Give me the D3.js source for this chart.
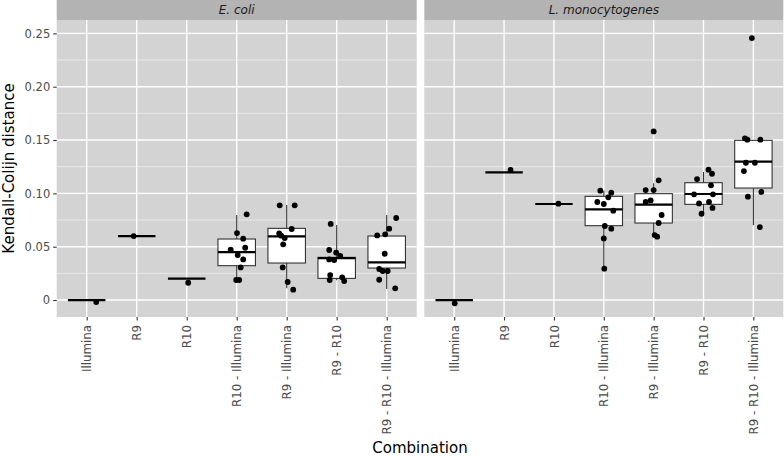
<!DOCTYPE html>
<html><head><meta charset="utf-8">
<script src="https://cdn.jsdelivr.net/npm/d3@7"></script>
<style>body{margin:0;background:#fff}svg{display:block;font-family:"DejaVu Sans",sans-serif}</style>
</head><body><svg id="c" width="784" height="457"></svg>
<script>
const categories = ["Illumina","R9","R10","R10 - Illumina","R9 - Illumina","R9 - R10","R9 - R10 - Illumina"];
const panels = ["E. coli","L. monocytogenes"];
const yTicks = [0,0.05,0.10,0.15,0.20,0.25];
const yTickLabels = ["0","0.05","0.10","0.15","0.20","0.25"];

// box statistics per panel: [lo, q1, median, q3, hi] per category
const boxEcoli = [
  [0,0,0,0,0],[0.06,0.06,0.06,0.06,0.06],[0.02,0.02,0.02,0.02,0.02],
  [0.0194,0.0322,0.045,0.0572,0.0797],[0.011,0.0347,0.0597,0.0672,0.089],
  [0.0185,0.0203,0.0393,0.0400,0.0703],[0.0103,0.030,0.0353,0.060,0.0797]];
const boxListeria = [
  [0,0,0,0,0],[0.1197,0.1197,0.1197,0.1197,0.1197],[0.09,0.09,0.09,0.09,0.09],
  [0.0294,0.0697,0.085,0.0972,0.1025],[0.0619,0.0722,0.0894,0.0997,0.1094],
  [0.0813,0.0897,0.0994,0.11,0.12],[0.07,0.105,0.1297,0.1497,0.1497]];

// jittered points: values and horizontal jitter (category units)
const ptsEcoli = [
  [[-0.0019,0.19]],
  [[0.060,-0.06]],
  [[0.0162,0.03]],
  [[0.0803,0.2],[0.0628,0.006],[0.0575,0.13],[0.0472,-0.12],[0.049,0.17],[0.0422,0.02],[0.0381,0.13],[0.0306,0.08],[0.0188,-0.01],[0.0188,0.05]],
  [[0.0888,-0.14],[0.0888,0.16],[0.0666,0.1],[0.0625,-0.15],[0.0603,-0.11],[0.0581,-0.04],[0.0522,-0.07],[0.0306,-0.08],[0.0169,0.02],[0.0097,0.13]],
  [[0.0713,-0.12],[0.0469,-0.15],[0.0444,-0.01],[0.0413,0.07],[0.0381,-0.15],[0.0375,-0.05],[0.0234,-0.13],[0.0188,-0.14],[0.0213,0.11],[0.0178,0.15]],
  [[0.0769,0.19],[0.0669,0.05],[0.0606,-0.19],[0.0616,-0.03],[0.0434,-0.04],[0.0291,-0.15],[0.0272,-0.08],[0.0272,0.02],[0.019,-0.15],[0.011,0.17]]];
const ptsListeria = [
  [[-0.0031,0.01]],
  [[0.1219,0.13]],
  [[0.0903,0.09]],
  [[0.1025,-0.07],[0.1006,0.15],[0.0963,0.09],[0.0919,-0.13],[0.09,0],[0.0838,0.19],[0.0694,0.02],[0.0669,0.15],[0.0578,0],[0.0294,0.01]],
  [[0.1581,0],[0.1122,0.1],[0.1031,-0.16],[0.1031,0],[0.0919,-0.16],[0.0934,-0.06],[0.0797,0.16],[0.0722,0.1],[0.0609,0.02],[0.0594,0.07]],
  [[0.1222,0.1],[0.1184,0.17],[0.1134,-0.13],[0.1075,0.15],[0.0991,-0.19],[0.0991,0.19],[0.0906,-0.09],[0.0919,0.11],[0.0863,0.18],[0.0809,-0.04]],
  [[0.2456,-0.03],[0.1516,-0.17],[0.1503,-0.12],[0.1503,0.14],[0.1287,-0.15],[0.1287,0.03],[0.1209,-0.19],[0.0969,-0.11],[0.1013,0.16],[0.0684,0.13]]];

const boxes = [boxEcoli, boxListeria];
const points = [ptsEcoli, ptsListeria];

const svg = d3.select("#c");
const pTop = 20, pBottom = 317, stripH = 20;
const panelX = [[56.7,416.7],[424.3,783.3]];
const y = d3.scaleLinear().domain([-0.0159,0.2625]).range([pBottom, pTop]);
const minor = [0.025,0.075,0.125,0.175,0.225];

panels.forEach((name, pi) => {
  const [x0,x1] = panelX[pi];
  const x = d3.scalePoint().domain(categories).range([x0,x1]).padding(0.6);
  const bw = x.step()*0.75;
  const g = svg.append("g");
  g.append("rect").attr("x",x0).attr("y",0).attr("width",x1-x0).attr("height",stripH).attr("fill","#b3b3b3");
  g.append("text").attr("x",(x0+x1)/2).attr("y",stripH/2).attr("dy","0.36em").attr("text-anchor","middle")
    .attr("font-size",12).attr("font-style","italic").attr("fill","#1a1a1a").text(name);
  g.append("rect").attr("x",x0).attr("y",pTop).attr("width",x1-x0).attr("height",pBottom-pTop).attr("fill","#d3d3d3");
  g.selectAll(".mn").data(minor).join("line").attr("x1",x0).attr("x2",x1)
    .attr("y1",d=>y(d)).attr("y2",d=>y(d)).attr("stroke","#ebebeb").attr("stroke-width",0.9);
  g.selectAll(".mj").data(yTicks).join("line").attr("x1",x0).attr("x2",x1)
    .attr("y1",d=>y(d)).attr("y2",d=>y(d)).attr("stroke","#fff").attr("stroke-width",1.4);
  g.selectAll(".mx").data(categories).join("line").attr("y1",pTop).attr("y2",pBottom)
    .attr("x1",d=>x(d)).attr("x2",d=>x(d)).attr("stroke","#fff").attr("stroke-width",1.4);
  const bd = boxes[pi];
  categories.forEach((c,i)=>{
    const [lo,q1,md,q3,hi] = bd[i];
    const cx = x(c);
    if (hi>q3) g.append("line").attr("x1",cx).attr("x2",cx).attr("y1",y(q3)).attr("y2",y(hi)).attr("stroke","#333").attr("stroke-width",1.1);
    if (lo<q1) g.append("line").attr("x1",cx).attr("x2",cx).attr("y1",y(q1)).attr("y2",y(lo)).attr("stroke","#333").attr("stroke-width",1.1);
    g.append("rect").attr("x",cx-bw/2).attr("width",bw).attr("y",y(q3)).attr("height",Math.max(0,y(q1)-y(q3)))
      .attr("fill","#fff").attr("stroke","#333").attr("stroke-width",1.1);
    g.append("line").attr("x1",cx-bw/2).attr("x2",cx+bw/2).attr("y1",y(md)).attr("y2",y(md)).attr("stroke","#000").attr("stroke-width",2.2);
  });
  const pd = points[pi];
  categories.forEach((c,i)=>{
    g.selectAll(null).data(pd[i]).join("circle")
      .attr("cx",d=>x(c)+d[1]*x.step()).attr("cy",d=>y(d[0])).attr("r",2.9).attr("fill","#000");
  });
  const xa = g.append("g").attr("transform",`translate(0,${pBottom})`)
    .call(d3.axisBottom(x).tickSize(3.5).tickPadding(4));
  xa.select(".domain").remove();
  xa.selectAll(".tick line").attr("stroke","#333").attr("stroke-width",1.1);
  xa.selectAll(".tick text").attr("transform","rotate(-90)").attr("text-anchor","end")
    .attr("x",-8).attr("y",0).attr("dy","0.35em").attr("font-size",11.8).attr("fill","#4d4d4d")
    .attr("font-family","DejaVu Sans");
  if (pi===0) {
    const ya = g.append("g").attr("transform",`translate(${x0},0)`)
      .call(d3.axisLeft(y).tickValues(yTicks).tickFormat((d,i)=>yTickLabels[i]).tickSize(3.5).tickPadding(3));
    ya.select(".domain").remove();
    ya.selectAll(".tick line").attr("stroke","#333").attr("stroke-width",1.1);
    ya.selectAll(".tick text").attr("font-size",11.5).attr("fill","#4d4d4d").attr("font-family","DejaVu Sans");
  }
});
svg.append("text").attr("x",420).attr("y",453).attr("text-anchor","middle").attr("font-size",15).attr("fill","#000").text("Combination");
svg.append("text").attr("transform","translate(9,168.5) rotate(-90)").attr("text-anchor","middle").attr("dy","0.35em")
  .attr("font-size",15).attr("fill","#000").text("Kendall-Colijn distance");
</script></body></html>
